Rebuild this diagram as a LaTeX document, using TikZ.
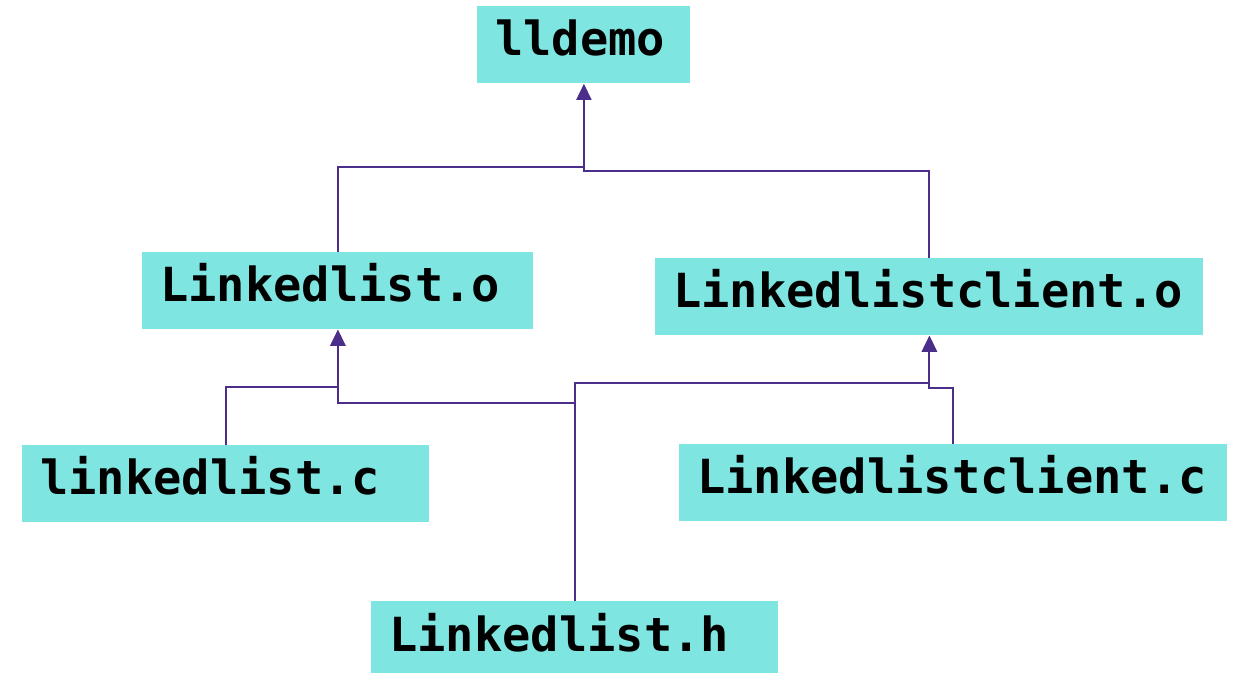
\documentclass[tikz,border=0pt]{standalone}
\usepackage{fontspec}
\newfontfamily\codefont{DejaVu Sans Mono}
\usetikzlibrary{arrows.meta}
\definecolor{boxc}{HTML}{7FE5E0}
\definecolor{linec}{HTML}{4B2D8A}
\tikzset{
  box/.style={fill=boxc, inner xsep=9pt, inner ysep=0pt, align=left, anchor=north west,
    minimum height=38.5pt, text height=17.5pt, text depth=6.5pt,
    font=\codefont\bfseries\fontsize{23.5pt}{28pt}\selectfont},
  conn/.style={draw=linec, line width=1pt},
  arr/.style={conn, -{Triangle[length=8pt,width=7.5pt]}}
}
\begin{document}
\begin{tikzpicture}[x=0.5pt,y=-0.5pt]
\useasboundingbox (0,0) rectangle (1236,674);
\node[box, text width=88.5pt] (lld) at (477,6) {lldemo};
\node[box, text width=177.5pt] (lo) at (142,252) {Linkedlist.o};
\node[box, text width=256pt] (lco) at (655,258) {Linkedlistclient.o};
\node[box, text width=185.5pt] (lc) at (22,445) {linkedlist.c};
\node[box, text width=256pt] (lcc) at (679,444) {Linkedlistclient.c};
\node[box, text width=185.5pt, minimum height=36pt, text depth=3.5pt] (lh) at (371,601) {Linkedlist.h};
\coordinate (j1) at (lld.south |- 0,167);
\draw[arr] (lo.north) -- (lo.north |- j1) -- (j1) -- (lld.south);
\draw[conn] (lco.north) -- (lco.north |- 0,171) -- (lld.south |- 0,171) -- (j1);
\draw[arr] (lc.north) -- (lc.north |- 0,387) -- (lo.south |- 0,387) -- (lo.south);
\draw[arr] (lh.north) -- (lh.north |- 0,403) -- (lo.south |- 0,403) -- (lo.south);
\draw[arr] (lh.north) -- (lh.north |- 0,383) -- (lco.south |- 0,383) -- (lco.south);
\draw[arr] (lcc.north) -- (lcc.north |- 0,388) -- (lco.south |- 0,388) -- (lco.south);
\end{tikzpicture}
\end{document}
